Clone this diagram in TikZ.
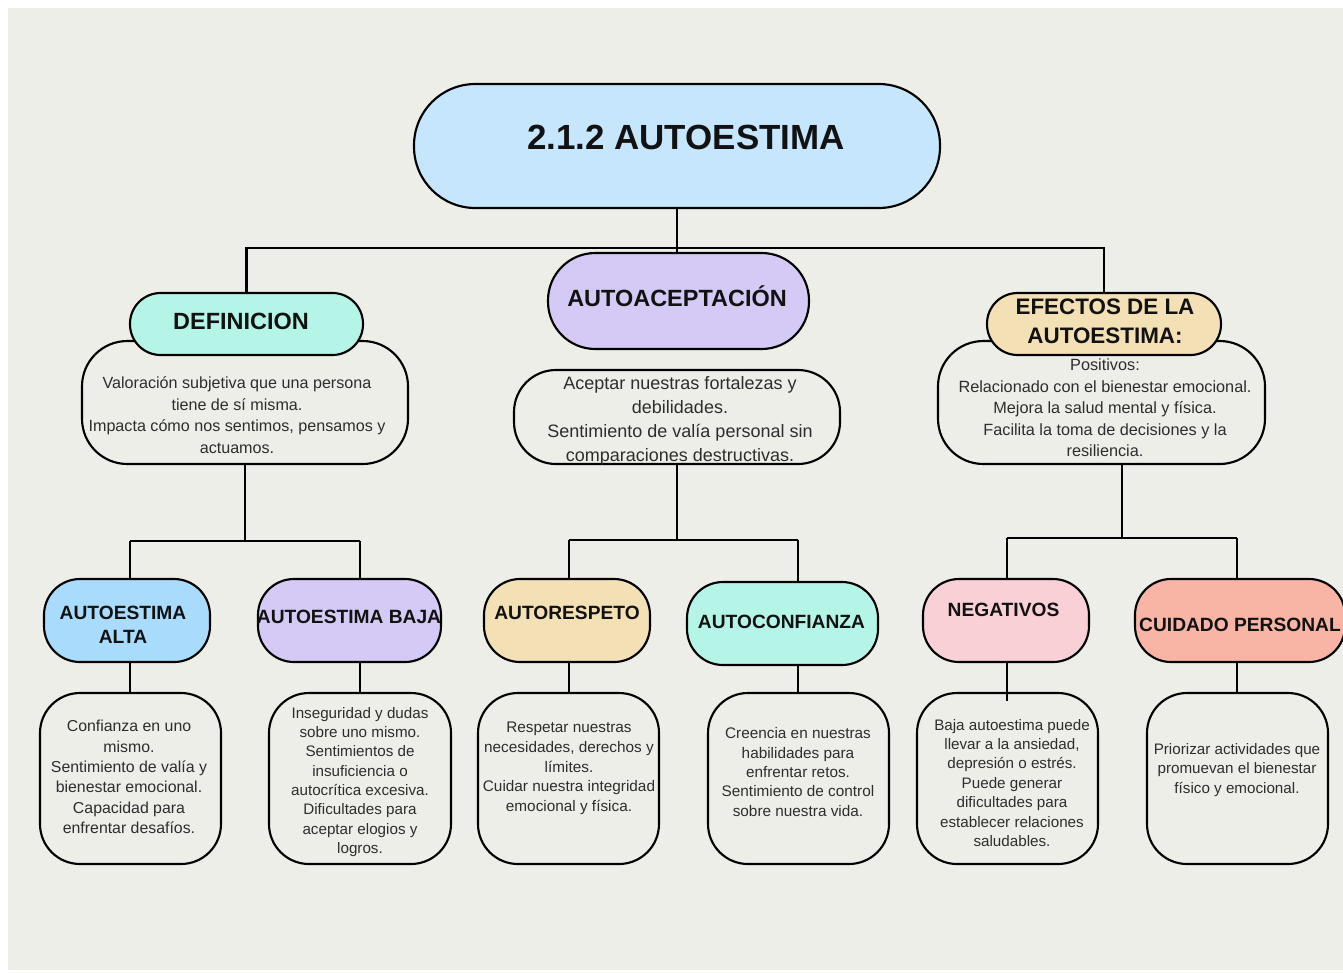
\documentclass[tikz,border=0pt]{standalone}
\usepackage{fontspec}
\setmainfont{Liberation Sans}
\usetikzlibrary{fit,backgrounds,calc}
\definecolor{bgc}{RGB}{238,238,233}
\definecolor{txt}{RGB}{45,45,45}
\definecolor{cTitle}{RGB}{197,230,252}
\definecolor{cMint}{RGB}{181,245,232}
\definecolor{cLav}{RGB}{213,202,245}
\definecolor{cSand}{RGB}{243,224,181}
\definecolor{cBlue}{RGB}{169,220,252}
\definecolor{cPink}{RGB}{248,208,213}
\definecolor{cSalmon}{RGB}{248,181,165}
\begin{document}
\begin{tikzpicture}[x=0.75pt,y=-0.75pt,
  box/.style={draw=black, line width=1.6pt, inner sep=0pt},
  desc/.style={box, fill=bgc, rounded corners=30pt},
  sub/.style={box, rounded corners=27pt},
  conn/.style={draw=black, line width=1.6pt},
  head/.style={text=black!93, align=center, inner sep=0pt, font=\bfseries\fontsize{14.4}{18}\selectfont},
  body/.style={text=txt, align=center, inner sep=0pt}
]
\useasboundingbox (0,0) rectangle (1343,972);
\begin{pgfonlayer}{background}
\fill[white] (0,0) rectangle (1343,972);
\fill[bgc] (8,8) rectangle (1343,970);
\end{pgfonlayer}

% description boxes (drawn first, behind headers)
\node[desc, rounded corners=34pt, fit={(82,341) (408,464)}] (defd) {};
\node[desc, rounded corners=31.5pt, fit={(514,370) (840,464)}] (acepd) {};
\node[desc, rounded corners=34pt, fit={(938,341) (1265,464)}] (efed) {};
\node[desc, fit={(40,693) (221,864)}] (altad) {};
\node[desc, fit={(269,693) (451,864)}] (bajad) {};
\node[desc, fit={(478,693) (659,864)}] (respd) {};
\node[desc, fit={(708,693) (889,864)}] (confd) {};
\node[desc, fit={(917,693) (1098,864)}] (negd) {};
\node[desc, fit={(1147,693) (1328,864)}] (cuidd) {};

% header boxes
\node[box, fill=cTitle, rounded corners=46pt, fit={(414,84) (940,208)}] (title) {};
\node[box, fill=cMint, rounded corners=23pt, fit={(130,293) (363,355)}] (def) {};
\node[box, fill=cLav, rounded corners=35.5pt, fit={(548,253) (809,349)}] (acep) {};
\node[box, fill=cSand, rounded corners=23pt, fit={(987,293) (1221,355)}] (efe) {};
\node[sub, fill=cBlue, fit={(44,579) (210,662)}] (alta) {};
\node[sub, fill=cLav, fit={(258,579) (441,662)}] (baja) {};
\node[sub, fill=cSand, fit={(484,579) (650,662)}] (resp) {};
\node[sub, fill=cMint, fit={(687,582) (878,665)}] (conf) {};
\node[sub, fill=cPink, fit={(923,579) (1089,662)}] (neg) {};
\node[sub, fill=cSalmon, fit={(1135,579) (1345,662)}] (cuid) {};

% header texts
\node[head, font=\bfseries\fontsize{26.2}{30}\selectfont] (title-t) at (686,137) {2.1.2 AUTOESTIMA};
\node[head, font=\bfseries\fontsize{17.6}{21}\selectfont] (def-t) at (241,321) {DEFINICION};
\node[head, font=\bfseries\fontsize{17.6}{21}\selectfont] (acep-t) at (677,296) {AUTOACEPTACIÓN};
\node[head, font=\bfseries\fontsize{16.8}{21.75}\selectfont] (efe-t) at (1105,321.5) {EFECTOS DE LA\\AUTOESTIMA:};
\node[head] (alta-t) at (123,625) {AUTOESTIMA\\ALTA};
\node[head] (baja-t) at (349,617) {AUTOESTIMA BAJA};
\node[head] (resp-t) at (567,613) {AUTORESPETO};
\node[head] (conf-t) at (781.5,622) {AUTOCONFIANZA};
\node[head] (neg-t) at (1003.5,610) {NEGATIVOS};
\node[head] (cuid-t) at (1240,625) {CUIDADO PERSONAL};

% body texts
\node[body, font=\fontsize{12.1}{16.1}\selectfont] (defd-t) at (237,415)
  {Valoración subjetiva que una persona\\tiene de sí misma.\\Impacta cómo nos sentimos, pensamos y\\actuamos.};
\node[body, font=\fontsize{13.5}{18}\selectfont] (acepd-t) at (680,420.5)
  {Aceptar nuestras fortalezas y\\debilidades.\\Sentimiento de valía personal sin\\comparaciones destructivas.};
\node[body, font=\fontsize{12.2}{16.1}\selectfont] (efed-t) at (1105,408)
  {Positivos:\\Relacionado con el bienestar emocional.\\Mejora la salud mental y física.\\Facilita la toma de decisiones y la\\resiliencia.};
\node[body, font=\fontsize{11.9}{15.3}\selectfont] (altad-t) at (129,777)
  {Confianza en uno\\mismo.\\Sentimiento de valía y\\bienestar emocional.\\Capacidad para\\enfrentar desafíos.};
\node[body, font=\fontsize{11.4}{14.5}\selectfont] (bajad-t) at (360,782)
  {Inseguridad y dudas\\sobre uno mismo.\\Sentimientos de\\insuficiencia o\\autocrítica excesiva.\\Dificultades para\\aceptar elogios y\\logros.};
\node[body, font=\fontsize{11.5}{14.8}\selectfont] (respd-t) at (569,768.5)
  {Respetar nuestras\\necesidades, derechos y\\límites.\\Cuidar nuestra integridad\\emocional y física.};
\node[body, font=\fontsize{11.5}{14.6}\selectfont] (confd-t) at (798,772)
  {Creencia en nuestras\\habilidades para\\enfrentar retos.\\Sentimiento de control\\sobre nuestra vida.};
\node[body, font=\fontsize{11.4}{14.6}\selectfont] (negd-t) at (1012,783)
  {Baja autoestima puede\\llevar a la ansiedad,\\depresión o estrés.\\Puede generar\\dificultades para\\establecer relaciones\\saludables.};
\node[body, font=\fontsize{11.4}{14.5}\selectfont] (cuidd-t) at (1237,770)
  {Priorizar actividades que\\promuevan el bienestar\\físico y emocional.};

% junction coordinates
\coordinate (hub) at (678,248);
\coordinate (dL) at (130,541);
\coordinate (dR) at (360,541);
\coordinate (aL) at (569,540);
\coordinate (aR) at (798,540);
\coordinate (eM) at (1122,538);
\coordinate (eL) at (1007,538);
\coordinate (eR) at (1237,538);

% connectors (behind boxes)
\begin{pgfonlayer}{background}
\draw[conn] (title.south) -- (title.south |- acep.north);
\draw[conn] (def.north) |- (hub) -| (efe.north);
% definicion group
\draw[conn] (defd.south) -- (defd.south |- dL);
\draw[conn] (dL) -- (dR);
\draw[conn] (dL) -- (dL |- alta.north);
\draw[conn] (dR) -- (dR |- baja.north);
\draw[conn] (dL |- alta.south) -- (dL |- altad.north);
\draw[conn] (dR |- baja.south) -- (dR |- bajad.north);
% autoaceptacion group
\draw[conn] (acepd.south) -- (acepd.south |- aL);
\draw[conn] (aL) -- (aR);
\draw[conn] (aL) -- (aL |- resp.north);
\draw[conn] (aR) -- (aR |- conf.north);
\draw[conn] (aL |- resp.south) -- (aL |- respd.north);
\draw[conn] (aR |- conf.south) -- (aR |- confd.north);
% efectos group
\draw[conn] (efed.south -| eM) -- (eM);
\draw[conn] (eL) -- (eR);
\draw[conn] (eL) -- (eL |- neg.north);
\draw[conn] (eR) -- (eR |- cuid.north);
\draw[conn] (eR |- cuid.south) -- (eR |- cuidd.north);
\end{pgfonlayer}
% this one pokes into the box below
\draw[conn] (eL |- neg.south) -- ($(eL |- negd.north)+(0,9)$);
\end{tikzpicture}
\end{document}
